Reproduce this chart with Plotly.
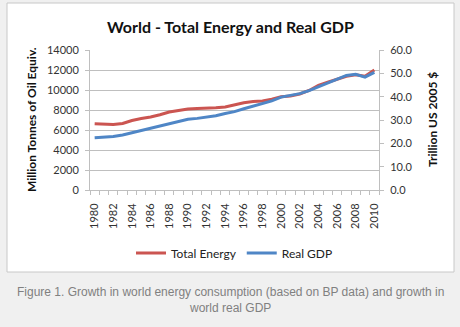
import plotly.graph_objects as go

years = list(range(1980, 2011))
total_energy = [6630, 6580, 6550, 6650, 6950, 7150, 7300, 7530, 7800, 7960,
                8100, 8150, 8170, 8230, 8300, 8500, 8730, 8850, 8900, 9080,
                9330, 9400, 9600, 9950, 10450, 10780, 11060, 11370, 11520, 11380, 12000]
real_gdp = [22.4, 22.7, 22.9, 23.6, 24.6, 25.6, 26.4, 27.4, 28.6, 29.6,
            30.3, 30.7, 31.2, 31.8, 32.8, 33.6, 34.8, 36.0, 36.9, 38.2,
            39.8, 40.4, 41.3, 42.6, 44.3, 45.8, 47.6, 49.1, 49.6, 48.4, 50.4]
x_labels = list(range(1980, 2011, 2))

RED = "#cb5551"
BLUE = "#4f86c6"
FONT = "Lato, 'Open Sans', sans-serif"
TICKC = "#333333"
AXC = "#bfbfbf"

fig = go.Figure()
fig.add_trace(go.Scatter(x=years, y=total_energy, mode="lines", name="Total Energy",
                         line=dict(color=RED, width=3)))
fig.add_trace(go.Scatter(x=years, y=real_gdp, mode="lines", name="Real GDP",
                         line=dict(color=BLUE, width=3), yaxis="y2"))

L, R, T, B = 90, 81, 50, 137
W, H = 460, 327
pw, ph = W - L - R, H - T - B

def px(xp):
    return (xp - L) / pw

def py(yp):
    return (H - B - yp) / ph

fig.update_layout(
    width=W, height=H,
    margin=dict(l=L, r=R, t=T, b=B, pad=0),
    paper_bgcolor="#f0f0f0",
    plot_bgcolor="white",
    font=dict(family=FONT, size=11, color=TICKC),
    showlegend=True,
    legend=dict(orientation="h", x=0.5, xanchor="center", y=py(253), yanchor="middle",
                font=dict(size=12, color="#222"), bgcolor="rgba(0,0,0,0)",
                itemwidth=30, tracegroupgap=0),
    xaxis=dict(
        range=[1979.5, 2010.5], tickmode="array", tickvals=x_labels,
        ticktext=[str(v) for v in x_labels], tickangle=-90,
        ticks="", showgrid=False, showline=True, linecolor=AXC, linewidth=1,
        zeroline=False, ticklabelstandoff=8,
        minor=dict(tickvals=[y - 0.5 for y in range(1980, 2012)], ticks="outside",
                   ticklen=4, tickcolor=AXC, showgrid=False),
        tickfont=dict(size=11, color=TICKC),
    ),
    yaxis=dict(
        range=[0, 14000], dtick=2000, tick0=0, showgrid=True, gridcolor=AXC,
        gridwidth=1, showline=True, linecolor=AXC, ticks="outside", ticklen=4,
        tickcolor=AXC, zeroline=False, tickfont=dict(size=11, color=TICKC),
        ticklabelstandoff=4, tickformat="d",
    ),
    yaxis2=dict(
        range=[0, 60], dtick=10, tick0=0, overlaying="y", side="right",
        showgrid=False, showline=True, linecolor=AXC, ticks="outside", ticklen=4,
        tickcolor=AXC, zeroline=False, tickformat=".1f",
        tickfont=dict(size=11, color=TICKC), ticklabelstandoff=4,
    ),
    shapes=[dict(type="rect", xref="paper", yref="paper",
                 x0=px(7), x1=px(454), y0=py(272), y1=py(3),
                 fillcolor="white", line=dict(color="#c8c8c8", width=1), layer="below")],
    annotations=[
        dict(text="<b>World - Total Energy and Real GDP</b>", xref="paper", yref="paper",
             x=px(230), y=py(27), showarrow=False, xanchor="center", yanchor="middle",
             font=dict(size=16, color="#111", family=FONT)),
        dict(text="<b>Million Tonnes of Oil Equiv.</b>", xref="paper", yref="paper",
             x=px(31), y=py(120), showarrow=False, textangle=-90,
             xanchor="center", yanchor="middle",
             font=dict(size=12, color="#111", family=FONT)),
        dict(text="<b>Trillion US 2005 $</b>", xref="paper", yref="paper",
             x=px(432), y=py(120), showarrow=False, textangle=-90,
             xanchor="center", yanchor="middle",
             font=dict(size=12, color="#111", family=FONT)),
        dict(text="Figure 1. Growth in world energy consumption (based on BP data) and growth in<br>world real GDP",
             xref="paper", yref="paper", x=px(230), y=py(300), showarrow=False,
             xanchor="center", yanchor="middle", align="center",
             font=dict(size=12, color="#808080", family="Liberation Sans, Arial, sans-serif")),
    ],
)

fig.write_html("out.html")
